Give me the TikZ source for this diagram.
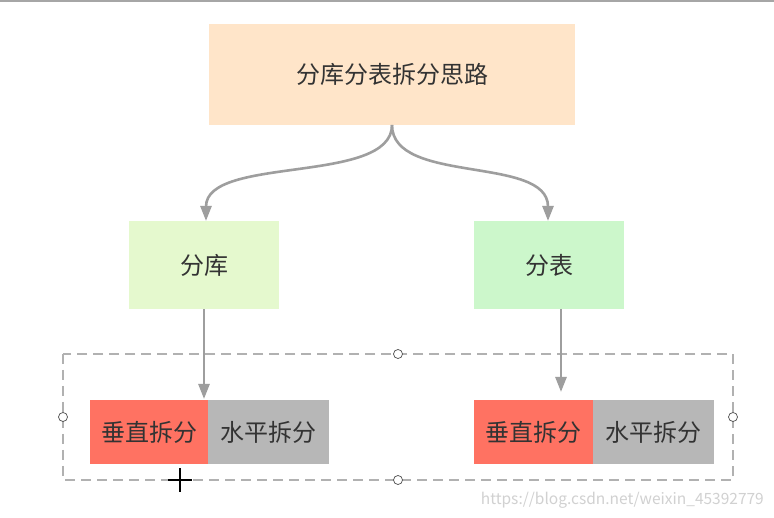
\documentclass[tikz,border=0pt]{standalone}
\usepackage{fontspec}
\setmainfont{Noto Sans CJK SC}
\usetikzlibrary{arrows.meta}
\definecolor{peach}{HTML}{FFE5C9}
\definecolor{lgreen}{HTML}{E5F9CE}
\definecolor{mgreen}{HTML}{CCF7CB}
\definecolor{vred}{HTML}{FF7262}
\definecolor{hgray}{HTML}{B7B7B7}
\definecolor{linegray}{HTML}{9E9E9E}
\definecolor{txt}{HTML}{333333}
\tikzset{
  box/.style={draw=none, inner sep=0pt, text=txt, font=\fontsize{24}{28}\selectfont},
  conn/.style={draw=linegray, line width=2.6pt, -{Triangle[length=15pt,width=11pt]}},
  handle/.style={circle, draw=black!70, fill=white, line width=0.7pt, inner sep=0pt, minimum size=9pt},
}
\begin{document}
\begin{tikzpicture}[x=1pt,y=-1pt]
\useasboundingbox (0,0) rectangle (774,518);
\fill[white] (0,0) rectangle (774,518);
\fill[black!35] (0,0) rectangle (774,2);
% nodes
\node[box, fill=peach, minimum width=366pt, minimum height=101pt] (root) at (392,74.5) {分库分表拆分思路};
\node[box, fill=lgreen, minimum width=150pt, minimum height=88pt] (ku) at (204,265) {分库};
\node[box, fill=mgreen, minimum width=150pt, minimum height=88pt] (biao) at (549,265) {分表};
\node[box, fill=vred, minimum width=118pt, minimum height=64pt] (v1) at (149,432) {垂直拆分};
\node[box, fill=hgray, minimum width=121pt, minimum height=64pt] (h1) at (268.5,432) {水平拆分};
\node[box, fill=vred, minimum width=119pt, minimum height=64pt] (v2) at (533.5,432) {垂直拆分};
\node[box, fill=hgray, minimum width=121pt, minimum height=64pt] (h2) at (653.5,432) {水平拆分};
% group frame
\coordinate (gtl) at (63,354);
\coordinate (gbr) at (733,480);
\draw[linegray!80, line width=2.6pt, dash pattern=on 10pt off 6pt] (gtl) rectangle (gbr);
\node[handle] (hl) at (63,417) {};
\node[handle] (hr) at (733,417) {};
\node[handle] (ht) at (398,354) {};
\node[handle] (hb) at (398,480) {};
% connectors
\coordinate (rs) at (392,125);
\coordinate (kt) at (206,221);
\coordinate (bt) at (548,221);
\draw[conn] (rs) .. controls (392,185) and (206,155) .. (kt);
\draw[conn] (rs) .. controls (392,185) and (548,155) .. (bt);
\coordinate (vt1) at (204,399);
\coordinate (bb) at (561,309);
\coordinate (vt2) at (561,392);
\draw[conn] (ku.south) -- (vt1);
\draw[conn] (bb) -- (vt2);
% cursor
\draw[black, line width=1.4pt] (168,480) -- (192,480) (180,468) -- (180,492);
% watermark
\node[text=black!18, font=\fontsize{15.5}{18}\selectfont, anchor=east, inner sep=0pt] (wm) at (764,500) {https://blog.csdn.net/weixin\_45392779};
\end{tikzpicture}
\end{document}
